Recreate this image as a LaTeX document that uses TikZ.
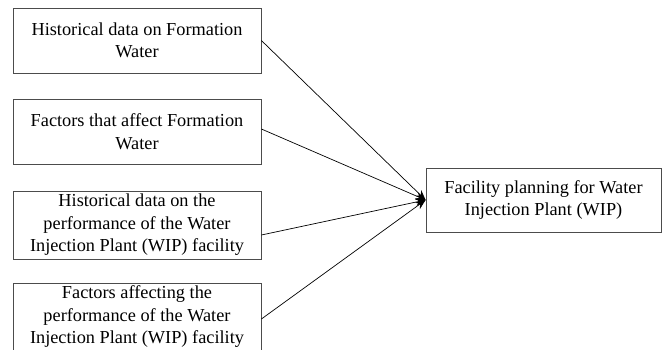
\documentclass[tikz,border=0pt]{standalone}
\usepackage{fontspec}
\setmainfont{Liberation Serif}
\usetikzlibrary{arrows.meta}
\begin{document}
\begin{tikzpicture}[x=1pt,y=-1pt,
  box/.style={draw=black!70, line width=0.8pt, rectangle, align=center, inner sep=0pt,
    font=\fontsize{18.3}{22.5}\selectfont},
  link/.style={draw=black, line width=0.7pt, -{Stealth[length=10pt,width=8pt]}}]
\clip (0,0) rectangle (662,349);
\node[box, minimum width=248pt, minimum height=65pt] (b1) at (137,40.5) {Historical data on Formation\\Water};
\node[box, minimum width=248pt, minimum height=65pt] (b2) at (137,131.5) {Factors that affect Formation\\Water};
\node[box, minimum width=248pt, minimum height=68pt] (b3) at (137,225) {Historical data on the\\performance of the Water\\Injection Plant (WIP) facility};
\node[box, minimum width=248pt, minimum height=68pt] (b4) at (137,317) {Factors affecting the\\performance of the Water\\Injection Plant (WIP) facility};
\node[box, minimum width=235pt, minimum height=64pt] (r) at (543.5,200) {Facility planning for Water\\Injection Plant (WIP)};
\draw[link] (b1.east) -- (r.west);
\draw[link] ([yshift=2.5pt]b2.east) -- (r.west);
\draw[link] ([yshift=-10pt]b3.east) -- (r.west);
\draw[link] ([yshift=-2pt]b4.east) -- (r.west);
\end{tikzpicture}
\end{document}
